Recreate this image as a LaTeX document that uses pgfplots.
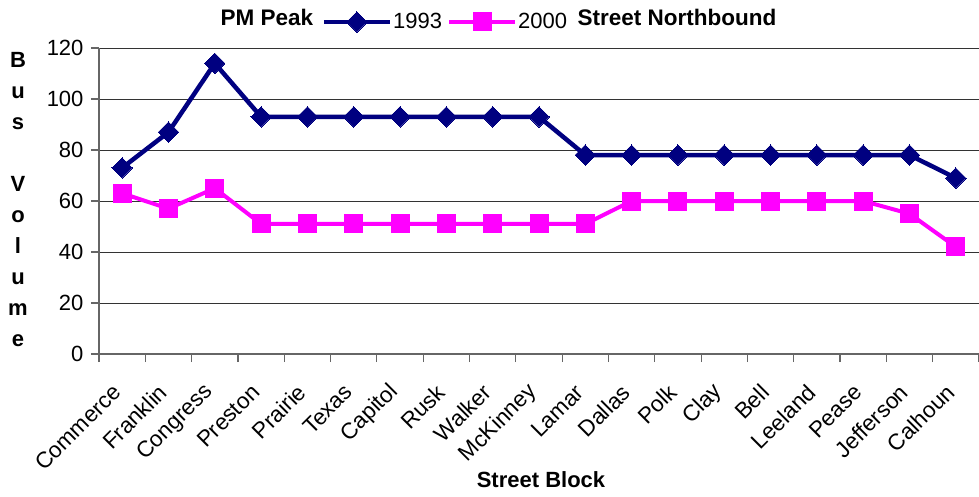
\documentclass[border=0pt]{standalone}
\usepackage{pgfplots}
\pgfplotsset{compat=1.18}
\usepackage{fontspec}
\setmainfont{Liberation Sans}
\definecolor{navy}{HTML}{000080}
\definecolor{mag}{HTML}{FF00FF}
\begin{document}
\begin{tikzpicture}
\useasboundingbox (-99pt,-142pt) rectangle (880pt,354pt);
\begin{axis}[
 at={(0pt,0pt)}, anchor=south west,
 width=880pt, height=306pt, scale only axis,
 xmin=-0.5, xmax=18.5, ymin=0, ymax=120,
 ytick={0,20,...,120},
 xtick={0,...,18},
 xticklabels={Commerce,Franklin,Congress,Preston,Prairie,Texas,Capitol,Rusk,Walker,McKinney,Lamar,Dallas,Polk,Clay,Bell,Leeland,Pease,Jefferson,Calhoun},
 minor xtick={-0.5,0.5,...,18.5},
 major x tick style={draw=none},
 minor x tick style={black!60, line width=1.2pt},
 y tick style={black!60, line width=1.2pt},
 minor tick length=8pt, major tick length=8pt,
 tick align=outside,
 axis x line*=bottom, axis y line*=left,
 ymajorgrids, grid style={black!80, line width=0.9pt},
 axis line style={black!60, line width=2pt},
 /pgf/number format/assume math mode=true,
 yticklabel style={font=\fontsize{22}{22}\selectfont, xshift=-4pt},
 xticklabel style={yshift=-24pt, xshift=-3pt, rotate=45, anchor=east, font=\fontsize{22.5}{22.5}\selectfont},
 legend columns=2,
 legend style={draw=none, fill=white, at={(0.393,1.085)}, anchor=center,
   font=\fontsize{22}{22}\selectfont, inner sep=1pt,
   nodes={inner xsep=1pt},
   /tikz/every even column/.append style={column sep=4pt}},
 legend image code/.code={\draw[mark repeat=2, mark phase=2, #1] plot coordinates {(0pt,0pt) (33pt,0pt) (66pt,0pt)};},
 clip=false,
]
\addplot[navy, line width=4.5pt, mark=square*, mark size=7.2pt,
  mark options={rotate=45, line width=0pt, fill=navy}]
 coordinates {(0,73) (1,87) (2,114) (3,93) (4,93) (5,93) (6,93) (7,93) (8,93) (9,93)
  (10,78) (11,78) (12,78) (13,78) (14,78) (15,78) (16,78) (17,78) (18,69)};
\addlegendentry{1993}
\addplot[mag, line width=4pt, mark=square*, mark size=9pt,
  mark options={line width=0pt, fill=mag}]
 coordinates {(0,63) (1,57) (2,65) (3,51) (4,51) (5,51) (6,51) (7,51) (8,51) (9,51)
  (10,51) (11,60) (12,60) (13,60) (14,60) (15,60) (16,60) (17,55) (18,42)};
\addlegendentry{2000}
\end{axis}
\node[font=\fontsize{22.5}{22.5}\selectfont\bfseries] at (168pt,337pt) {PM Peak};
\node[font=\fontsize{22.5}{22.5}\selectfont\bfseries] at (578pt,337pt) {Street Northbound};
\node[font=\fontsize{22}{22}\selectfont\bfseries] at (442pt,-126pt) {Street Block};
\node[font=\fontsize{22}{31}\selectfont\bfseries, align=center, anchor=north, inner sep=0pt]
  at (-81pt,302pt) {B\\u\\s\\[31pt]V\\o\\l\\u\\m\\e};
\end{tikzpicture}
\end{document}
